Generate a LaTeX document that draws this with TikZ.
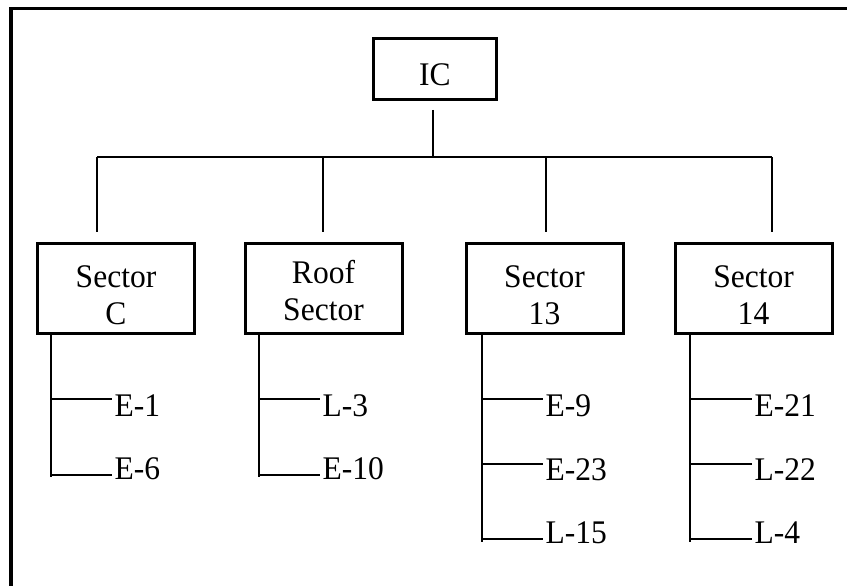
\documentclass[tikz,border=0pt]{standalone}
\usepackage{fontspec}
\setmainfont{Liberation Serif}[FakeStretch=0.955]
% branch from a spine to a leaf label: #1 spine end, #2 label node, #3 height above its baseline
\newcommand\leafbranch[3]{%
  \coordinate (#2b) at ([yshift=#3]#2.base west);
  \draw[conn] (#2b -| #1) -- (#2b);}
\begin{document}
\begin{tikzpicture}[x=1pt,y=-1pt,
  txt/.style={font=\fontsize{33}{37}\selectfont},
  conn/.style={line width=2.5pt},
  unit/.style={draw, line width=3pt, txt, inner sep=0pt, align=center,
    minimum width=157pt, minimum height=90pt},
  leaf/.style={txt, inner xsep=2.5pt, inner ysep=0pt, anchor=base west}]
\useasboundingbox (0,0) rectangle (847,586);
\clip (0,0) rectangle (847,586);

% outer frame (runs off the page on the right and at the bottom)
\draw[line width=3.5pt] (11,8.5) rectangle (900,700);

% command box
\node[draw, line width=3pt, txt, inner sep=0pt, minimum width=123pt,
      minimum height=61pt, text height=32pt, text depth=0pt] (ic) at (435,69) {IC};

% sector boxes (text box measured from its last baseline)
\node[unit, text height=72pt, text depth=0pt] (sc)  at (116,288.5)   {Sector\\C};
\node[unit, text height=64pt, text depth=0pt] (rf)  at (323.5,288.5) {Roof\\Sector};
\node[unit, text height=72pt, text depth=0pt] (s13) at (544.5,288.5) {Sector\\13};
\node[unit, text height=72pt, text depth=0pt] (s14) at (753.5,288.5) {Sector\\14};

% distribution bus
\coordinate (bus) at (433,157);
\coordinate (dc)  at (97,157);
\coordinate (dr)  at (323,157);
\coordinate (d13) at (546,157);
\coordinate (d14) at (772,157);
\draw[conn] ([yshift=-9pt]ic.south -| bus) -- (bus);
\draw[conn] (dc) -- (d14);
\draw[conn] (dc)  -- ([yshift=10pt]sc.north -| dc);
\draw[conn] (dr)  -- ([yshift=10pt]rf.north -| dr);
\draw[conn] (d13) -- ([yshift=10pt]s13.north -| d13);
\draw[conn] (d14) -- ([yshift=10pt]s14.north -| d14);

% spines under the sectors
\coordinate (cend)   at (51,477);
\coordinate (rend)   at (259,477);
\coordinate (s13end) at (482,542);
\coordinate (s14end) at (690,542);
\draw[conn] (sc.south -| cend) -- (cend);
\draw[conn] (rf.south -| rend) -- (rend);
\draw[conn] (s13.south -| s13end) -- (s13end);
\draw[conn] (s14.south -| s14end) -- (s14end);

% resources
\node[leaf] (e1)  at (112,416.5) {E-1};
\node[leaf] (e6)  at (112,479) {E-6};
\node[leaf] (l3)  at (320,416.5) {L-3};
\node[leaf] (e10) at (320,479) {E-10};
\node[leaf] (e9)  at (543,416.5) {E-9};
\node[leaf] (e23) at (543,480) {E-23};
\node[leaf] (l15) at (543,543) {L-15};
\node[leaf] (e21) at (752,416.5) {E-21};
\node[leaf] (l22) at (752,480) {L-22};
\node[leaf] (l4)  at (752,543) {L-4};

\leafbranch{cend}{e1}{17.5pt}
\leafbranch{cend}{e6}{4pt}
\leafbranch{rend}{l3}{17.5pt}
\leafbranch{rend}{e10}{4pt}
\leafbranch{s13end}{e9}{17.5pt}
\leafbranch{s13end}{e23}{16pt}
\leafbranch{s13end}{l15}{4pt}
\leafbranch{s14end}{e21}{17.5pt}
\leafbranch{s14end}{l22}{16pt}
\leafbranch{s14end}{l4}{4pt}
\end{tikzpicture}
\end{document}
